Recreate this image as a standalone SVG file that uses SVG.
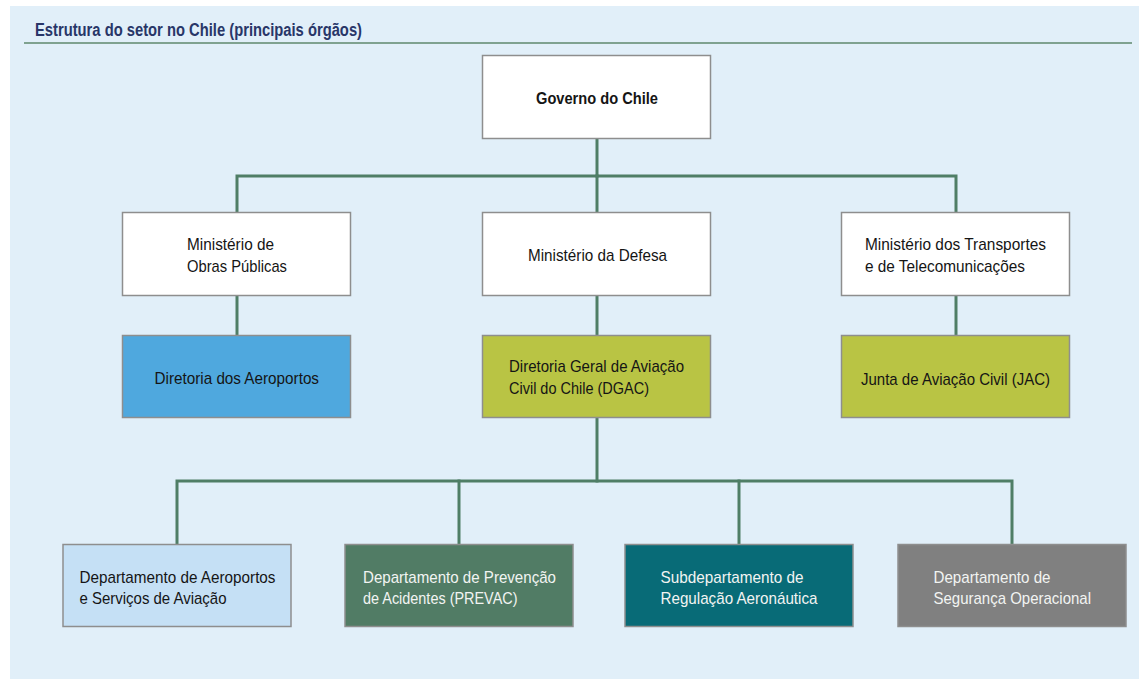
<svg xmlns="http://www.w3.org/2000/svg" width="1139" height="679" viewBox="0 0 1139 679">
  <defs>
    <style>
      .bg { fill: #e1eff9; }
      .title { font-family: "Liberation Sans", Arial, sans-serif; font-size: 17.5px; font-weight: bold; fill: #283668; }
      .rule { stroke: #7fa290; stroke-width: 2; }
      .box { stroke: #8e8e8e; stroke-width: 1.5; }
      .t { font-family: "Liberation Sans", Arial, sans-serif; font-size: 17px; fill: #151515; }
      .tb { font-weight: bold; }
      .light { fill: #f2f4f2; }
      .conn { fill: none; stroke: #4f7e66; stroke-width: 3; stroke-linejoin: miter; stroke-linecap: square; }
    </style>
  </defs>

  <!-- panel background and heading -->
  <rect class="bg" x="10" y="6" width="1129" height="673"/>
  <text class="title" x="35" y="36" textLength="327" lengthAdjust="spacingAndGlyphs">Estrutura do setor no Chile (principais órgãos)</text>
  <line class="rule" x1="24" y1="43" x2="1132" y2="43"/>

  <!-- connectors -->
  <g id="connectors">
    <path class="conn" d="M597 139 V176"/>
    <path class="conn" d="M237 212 V176 H956 V212"/>
    <path class="conn" d="M597 176 V212"/>
    <path class="conn" d="M237 296 V335"/>
    <path class="conn" d="M597 296 V335"/>
    <path class="conn" d="M956 296 V335"/>
    <path class="conn" d="M597 418 V481"/>
    <path class="conn" d="M177 544 V481 H1012 V544"/>
    <path class="conn" d="M459 481 V544"/>
    <path class="conn" d="M739 481 V544"/>
  </g>

  <!-- top level -->
  <g id="governo">
    <rect class="box" x="482.5" y="55.5" width="228" height="83" fill="#ffffff"/>
    <text class="t tb" x="536" y="104" textLength="122" lengthAdjust="spacingAndGlyphs">Governo do Chile</text>
  </g>

  <!-- ministries -->
  <g id="min-obras">
    <rect class="box" x="122.5" y="212.5" width="228" height="83" fill="#ffffff"/>
    <text class="t" x="187" y="250" textLength="87" lengthAdjust="spacingAndGlyphs">Ministério de</text>
    <text class="t" x="187" y="271.5" textLength="100" lengthAdjust="spacingAndGlyphs">Obras Públicas</text>
  </g>
  <g id="min-defesa">
    <rect class="box" x="482.5" y="212.5" width="228" height="83" fill="#ffffff"/>
    <text class="t" x="528" y="260.5" textLength="139" lengthAdjust="spacingAndGlyphs">Ministério da Defesa</text>
  </g>
  <g id="min-transportes">
    <rect class="box" x="841.5" y="212.5" width="228" height="83" fill="#ffffff"/>
    <text class="t" x="865" y="250" textLength="181" lengthAdjust="spacingAndGlyphs">Ministério dos Transportes</text>
    <text class="t" x="865" y="271.5" textLength="160" lengthAdjust="spacingAndGlyphs">e de Telecomunicações</text>
  </g>

  <!-- agencies -->
  <g id="dir-aeroportos">
    <rect class="box" x="122.5" y="335.5" width="228" height="82" fill="#4fa8de"/>
    <text class="t" x="154.5" y="383.5" textLength="164.5" lengthAdjust="spacingAndGlyphs">Diretoria dos Aeroportos</text>
  </g>
  <g id="dgac">
    <rect class="box" x="482.5" y="335.5" width="228" height="82" fill="#b9c444"/>
    <text class="t" x="509" y="371.5" textLength="175" lengthAdjust="spacingAndGlyphs">Diretoria Geral de Aviação</text>
    <text class="t" x="509" y="394" textLength="140" lengthAdjust="spacingAndGlyphs">Civil do Chile (DGAC)</text>
  </g>
  <g id="jac">
    <rect class="box" x="841.5" y="335.5" width="228" height="82" fill="#b9c444"/>
    <text class="t" x="861" y="385" textLength="189" lengthAdjust="spacingAndGlyphs">Junta de Aviação Civil (JAC)</text>
  </g>

  <!-- DGAC departments -->
  <g id="dep-aeroportos">
    <rect class="box" x="63" y="544.5" width="228" height="82" fill="#c5e0f5"/>
    <text class="t" x="79.5" y="582.5" textLength="196" lengthAdjust="spacingAndGlyphs">Departamento de Aeroportos</text>
    <text class="t" x="79.5" y="604" textLength="147" lengthAdjust="spacingAndGlyphs">e Serviços de Aviação</text>
  </g>
  <g id="dep-prevac">
    <rect class="box" x="345" y="544.5" width="228" height="82" fill="#517c65"/>
    <text class="t light" x="363" y="582.5" textLength="193" lengthAdjust="spacingAndGlyphs">Departamento de Prevenção</text>
    <text class="t light" x="363" y="604" textLength="154.5" lengthAdjust="spacingAndGlyphs">de Acidentes (PREVAC)</text>
  </g>
  <g id="subdep-regulacao">
    <rect class="box" x="625" y="544.5" width="228" height="82" fill="#086b77"/>
    <text class="t light" x="660.5" y="582.5" textLength="143" lengthAdjust="spacingAndGlyphs">Subdepartamento de</text>
    <text class="t light" x="660.5" y="604" textLength="157" lengthAdjust="spacingAndGlyphs">Regulação Aeronáutica</text>
  </g>
  <g id="dep-seguranca">
    <rect class="box" x="898" y="544.5" width="228" height="82" fill="#808080"/>
    <text class="t light" x="933.5" y="582.5" textLength="117" lengthAdjust="spacingAndGlyphs">Departamento de</text>
    <text class="t light" x="933.5" y="604" textLength="157.5" lengthAdjust="spacingAndGlyphs">Segurança Operacional</text>
  </g>
</svg>
